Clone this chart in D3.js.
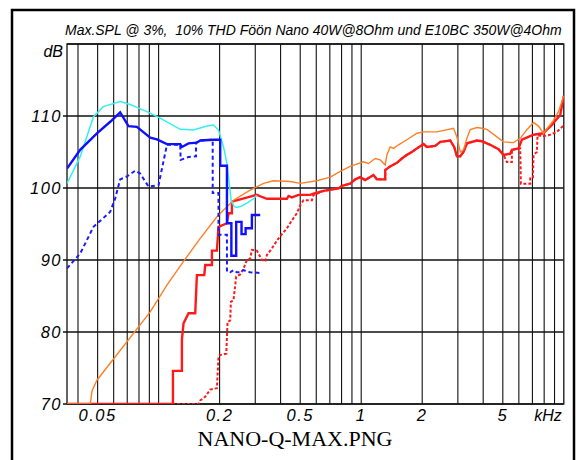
<!DOCTYPE html>
<html><head><meta charset="utf-8">
<script src="https://cdn.jsdelivr.net/npm/d3@7"></script>
<style>body{margin:0;background:#fff}svg{display:block}</style>
</head><body><svg id="c" width="578" height="460"></svg>
<script>
// frequency in Hz, level in dB
const cyanCurve = [[35.3,100.65],[41.0,104.35],[47.7,109.9],[53.3,111.3],[64.6,112.0],[72.4,111.6],[87.6,110.6],[101.8,109.7],[127.8,108.15],[148.7,108.05],[173.1,108.6],[186.6,108.75],[197.5,108.05],[209.1,105.7],[217.4,103.4],[228,98.3],[236,97.4],[243.5,97.3],[257,97.5],[272.8,97.9],[294,98.5],[305,99.0]];
const blueSolid = [[35.3,102.7],[41.0,105.3],[49.6,107.6],[57.7,109.2],[64.6,110.5],[71.0,108.6],[78.1,108.5],[90.9,107.0],[98.1,106.75],[109.9,106.1],[127.8,106.1],[130.3,105.7],[140.5,106.2],[154.5,106.3],[160.5,106.6],[186.6,106.7],[201.4,106.7],[201.4,103.1],[217.4,103.1],[217.4,95.1],[228.6,95.1],[228.6,90.6],[241.5,90.6],[241.5,95.3],[256.6,95.3],[256.6,93.6],[268.8,93.6],[268.8,94.4],[288.7,94.4],[288.7,96.25],[317.3,96.25]];
const blueDashed = [[35.3,88.85],[41.0,90.9],[47.7,94.6],[57.7,96.7],[61.1,98.6],[64.6,101.2],[69.8,101.6],[76.6,102.4],[81.1,102.0],[89.2,100.2],[99.9,100.4],[109.9,106.0],[127.8,106.0],[128.5,103.9],[140.5,104.3],[153,104.4],[153,106.3],[160.5,106.6],[184.9,106.7],[184.9,99.3],[197.5,99.3],[197.5,93.5],[217.4,93.5],[217.4,88.4],[225.6,88.3],[234.2,88.6],[243,88.3],[252.8,88.3],[262.4,88.6],[272.8,88.4],[283.2,88.3],[317.3,88.2]];
const redSolid = [[35.3,70],[117.7,70],[117.7,74.6],[130.3,74.6],[130.3,78.9],[132.7,81.2],[140.5,82.6],[151.6,82.6],[154.5,87.9],[168,87.9],[169.8,89.3],[183.3,89.3],[183.3,91.3],[194,91.3],[197.5,94.6],[217.4,95.1],[221.3,96.5],[230,96.5],[230,98.1],[283.2,98.8],[305.6,99.05],[323.5,98.75],[342.5,98.5],[429.9,98.5],[437.8,98.9],[455,98.7],[490.4,99.05],[560,99.05],[581,99.2],[651,99.6],[773,99.95],[803,100.3],[882,100.6],[934,101.2],[989,101.5],[1046,101.1],[1150,101.8],[1195,101.2],[1314,101.2],[1314,102.5],[1390,103.0],[1501,103.5],[1588,104.1],[1681,104.6],[1779,105.0],[1883,105.5],[2030,106.1],[2110,105.7],[2319,105.85],[2455,106.4],[2750,106.6],[2877,105.7],[2968,104.4],[3082,104.4],[3198,105.0],[3325,106.2],[3725,106.6],[3943,106.5],[4332,106.0],[4761,105.4],[5040,104.6],[5438,104.75],[5544,105.3],[5976,105.5],[6212,106.7],[7089,107.4],[7942,107.6],[8254,108.1],[8736,108.75],[9071,109.35],[9598,110.1],[10000,112.8]];
const redDotted = [[35.3,70],[157.4,70],[160.5,70.5],[169.8,71],[179.8,72],[194,72.2],[197.5,76.6],[201.4,76.8],[215.7,77],[218.9,81.4],[225.6,81.6],[227.4,84.2],[234.2,84.4],[241.5,87.7],[252.8,88],[262.4,88.8],[272.8,90],[283.2,90.2],[288.7,91.4],[305.6,91.3],[323.5,90.0],[335.9,89.8],[342.5,90.7],[362.4,91.6],[383.7,92.7],[406.1,93.6],[429.9,94.4],[455,95.5],[481.6,96.5],[500,97.6],[519,98.3],[571,98.3],[581,99.0],[651,99.6],[773,99.95],[803,100.3],[882,100.6],[934,101.2],[989,101.5],[1046,101.1],[1150,101.8],[1195,101.2],[1314,101.2],[1314,102.5],[1390,103.0],[1501,103.5],[1588,104.1],[1681,104.6],[1779,105.0],[1883,105.5],[2030,106.1],[2110,105.7],[2319,105.85],[2455,106.4],[2750,106.6],[2877,105.7],[2968,104.4],[3082,104.4],[3198,105.0],[3325,106.2],[3725,106.6],[3943,106.5],[4332,106.0],[4761,105.4],[5040,104.6],[5238,103.6],[5544,103.6],[5544,105.3],[6093,105.5],[6141,100.6],[6827,100.6],[6827,101.5],[7042,101.5],[7089,104.6],[7366,105.0],[7417,107.3],[7942,107.2],[8569,107.4],[9246,107.8],[10000,108.7]];
const orangeCurve = [[35.3,70],[46.0,70],[46.9,71.8],[49.6,73.3],[90.9,82.8],[109.9,86.5],[132.7,89.8],[160.5,93.0],[194,96.0],[234.2,98.3],[283.2,99.7],[329.5,100.65],[369.1,101.0],[446.3,100.9],[500,100.65],[604,101.0],[703,101.5],[788,102.3],[882,103.0],[1026,103.65],[1086,103.4],[1172,104.1],[1241,103.9],[1314,103.2],[1339,104.6],[1390,105.7],[1443,105.5],[1528,106.0],[1681,106.7],[1883,107.6],[2030,107.8],[2364,107.8],[2855,108.3],[2968,107.1],[3082,105.0],[3198,105.3],[3325,106.9],[3451,108.1],[3725,108.4],[3943,108.3],[4173,108.15],[4675,107.1],[5040,106.4],[5646,106.3],[6093,106.9],[6576,108.1],[7089,109.1],[7501,108.6],[7942,107.6],[8406,108.5],[8896,109.4],[9415,110.6],[10000,112.8]];
const yTicks = [70,80,90,100,110];
const xTickLabels = [[50,"0.05"],[200,"0.2"],[500,"0.5"],[1000,"1"],[2000,"2"],[5000,"5"]];
const gridFreqs = [40,50,60,70,80,90,100,200,300,400,500,600,700,800,900,1000,2000,3000,4000,5000,6000,7000,8000,9000];
const titleText = "Max.SPL @ 3%,  10% THD Föön Nano 40W@8Ohm und E10BC 350W@4Ohm";

const svg = d3.select("#c");
const L=67, R=563.8, T=44, B=404;
const x = d3.scaleLog().domain([35.3,10000]).range([L,R]);
const y = d3.scaleLinear().domain([70,120]).range([B,T]);

svg.append("rect").attr("x",12).attr("y",10).attr("width",562).attr("height",470)
  .attr("fill","none").attr("stroke","#000").attr("stroke-width",2.5);

const g = svg.append("g");
g.selectAll("line.v").data(gridFreqs).join("line")
  .attr("x1",d=>x(d)).attr("x2",d=>x(d)).attr("y1",T).attr("y2",B)
  .attr("stroke","#111").attr("stroke-width",1.1);
g.selectAll("line.h").data(yTicks.concat([120])).join("line").attr("class","h")
  .attr("x1",d=>d===120?L:L-4).attr("x2",R).attr("y1",d=>y(d)).attr("y2",d=>y(d))
  .attr("stroke","#111").attr("stroke-width",1.3);
g.append("rect").attr("x",L).attr("y",T).attr("width",R-L).attr("height",B-T)
  .attr("fill","none").attr("stroke","#111").attr("stroke-width",1.3);

svg.append("defs").append("clipPath").attr("id","clip").append("rect")
  .attr("x",L).attr("y",T-2).attr("width",R-L).attr("height",B-T+2);
const line = d3.line().x(d=>x(d[0])).y(d=>y(d[1]));
const cg = svg.append("g").attr("clip-path","url(#clip)");
function draw(data,color,w,dash){
  const p = cg.append("path").attr("d",line(data)).attr("fill","none")
    .attr("stroke",color).attr("stroke-width",w).attr("stroke-linejoin","miter");
  if(dash) p.attr("stroke-dasharray",dash);
}
draw(redDotted,"#ff1a1a",2,"3,2");
draw(redSolid,"#ff1a1a",2.4);
draw(orangeCurve,"#ff7f27",1.4);
draw(blueDashed,"#1a1aff",2,"4,3");
draw(cyanCurve,"#33f0f0",1.5);
draw(blueSolid,"#1010ff",2.4);

const font = "'Liberation Sans', Arial, sans-serif";
svg.append("g").selectAll("text").data(yTicks).join("text")
  .attr("x",62).attr("y",d=>y(d)+6).attr("text-anchor","end")
  .attr("font-family",font).attr("font-style","italic").attr("font-size",16.5).attr("letter-spacing",1.5)
  .text(d=>d);
svg.append("text").attr("x",63).attr("y",57).attr("text-anchor","end")
  .attr("font-family",font).attr("font-style","italic").attr("font-size",16).text("dB");
svg.append("g").selectAll("text").data(xTickLabels).join("text")
  .attr("x",d=>x(d[0])).attr("y",421).attr("text-anchor","middle")
  .attr("font-family",font).attr("font-style","italic").attr("font-size",16.5).attr("letter-spacing",1.5)
  .text(d=>d[1]);
svg.append("text").attr("x",548).attr("y",421).attr("text-anchor","middle")
  .attr("font-family",font).attr("font-style","italic").attr("font-size",16).text("kHz");
const title = svg.append("text").attr("x",0).attr("y",0)
  .attr("font-family",font).attr("font-style","italic").attr("font-size",15.5).style("white-space","pre")
  .text(titleText);
const tw = title.node().getComputedTextLength();
title.attr("transform",`translate(65,35) scale(${497/tw},1)`);
svg.append("text").attr("x",295).attr("y",446).attr("text-anchor","middle")
  .attr("font-family","'Liberation Serif','Times New Roman',serif").attr("font-size",22)
  .text("NANO-Q-MAX.PNG");
</script></body></html>
